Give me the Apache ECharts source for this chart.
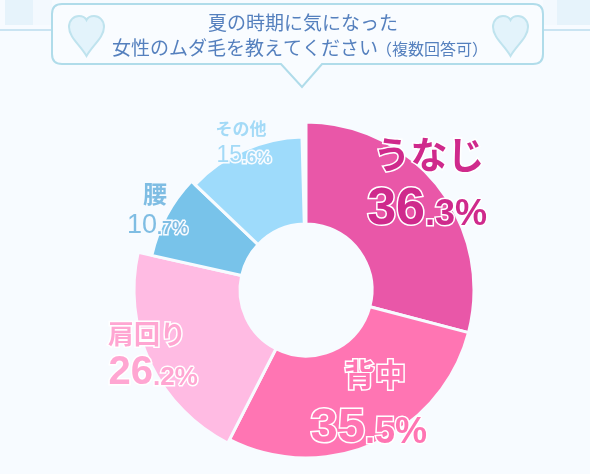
<!DOCTYPE html>
<html><head><meta charset="utf-8">
<style>html,body{margin:0;padding:0;background:#F7FBFF}#c{width:590px;height:474px}</style>
<script src="https://cdn.jsdelivr.net/npm/echarts@6/dist/echarts.min.js"></script>
</head><body><div id="c"></div>
<script>
const categories = ['うなじ','背中','肩回り','腰','その他'];
const values = [36.3,35.5,26.2,10.7,15.6];
const colors = ['#E957A8','#FF75B3','#FFBBE3','#78C3EA','#9EDBFB'];
const outerRadii = [168,168,172,158,153];
const labelColors = ['#CF2A8C','#FF75B3','#FFA6D2','#7FBDE3','#A3DAF7'];
const labelStroke = ['#FFF','#FFF','#FFF','#F7FBFF','#F7FBFF'];
const namePos = [[429,155],[375,374],[147,334],[155,194],[241,129]];
const valuePos = [[425,228],[365,446],[153,387],[157,235],[242,164]];
const nameSize = [37,31,26,24,17];
const bigSize = [52,49,40,27,23];
const smallSize = [36,36,26,18,17];
const bigWeight = [700,700,700,400,400];
const titleLines = ['夏の時期に気になった','女性のムダ毛を教えてください'];
const titleNote = '（複数回答可）';
const sweepDegrees = 358.5;

const total = values.reduce((a,b)=>a+b,0);
const fullCircle = total*360/sweepDegrees;
let cum = 0;
const series = values.map((v,i)=>{
  const s = {
    type:'pie', center:[306,290], radius:[66,outerRadii[i]], startAngle:90-cum/fullCircle*360,
    clockwise:true, silent:true, animation:false, label:{show:false}, labelLine:{show:false},
    emphasis:{disabled:true}, avoidLabelOverlap:false,
    data:[
      {name:categories[i], value:v, itemStyle:{color:colors[i], borderColor:'#F7FBFF', borderWidth:3}},
      {name:'', value:fullCircle-v, itemStyle:{color:'transparent', borderWidth:0}}
    ]
  };
  cum += v; return s;
});

echarts.graphic.registerShape('calloutBox', echarts.graphic.extendPath('M62 4 H533 Q543 4 543 14 V54 Q543 64 533 64 H322 L302 87 L281 64 H62 Q52 64 52 54 V14 Q52 4 62 4 Z', {}));
echarts.graphic.registerShape('heartShape', echarts.graphic.extendPath('M17.5 40 C11 29 0 21 0 11 C0 4 5 0 10 0 C13 0 16 1 17.5 4 C19 1 22 0 25 0 C30 0 35 4 35 11 C35 21 24 29 17.5 40 Z', {}));

const heart = (x)=>({
  type:'heartShape', x:x, y:16,
  style:{fill:'#E3F3FB', stroke:'#BFE3EE', lineWidth:2}, z:3
});

const deco = [
  {type:'rect', shape:{x:5,y:0,width:28,height:25}, style:{fill:'#E6F3FB'}, z:0},
  {type:'rect', shape:{x:557,y:0,width:33,height:25}, style:{fill:'#E6F3FB'}, z:0},
  {type:'rect', shape:{x:33,y:0,width:19,height:25}, style:{fill:'#F3F9FE'}, z:0},
  {type:'rect', shape:{x:543,y:0,width:14,height:25}, style:{fill:'#F3F9FE'}, z:0},
  {type:'line', shape:{x1:0,y1:30,x2:590,y2:30}, style:{stroke:'#BBDDEE',lineWidth:1.5}, z:0},
  {type:'calloutBox', style:{fill:'#F9FCFF', stroke:'#B0DCEA', lineWidth:2}, z:2},
  heart(69), heart(493),
  {type:'text', x:303, y:23, style:{text:titleLines[0], font:'400 19px "Noto Sans CJK JP"', fill:'#5580BE', align:'center', verticalAlign:'middle'}, z:4},
  {type:'text', x:112, y:48, style:{text:titleLines[1], font:'400 19px "Noto Sans CJK JP"', fill:'#5580BE', align:'left', verticalAlign:'middle'}, z:4},
  {type:'text', x:376, y:49, style:{text:titleNote, font:'400 16px "Noto Sans CJK JP"', fill:'#5580BE', align:'left', verticalAlign:'middle'}, z:4}
];

const labels = [];
function addText(i, x, y, text, font, align){
  labels.push({type:'text', x, y, z:10, style:{text, font, align, verticalAlign:'middle', fill:labelStroke[i], stroke:labelStroke[i], lineWidth:3}});
  labels.push({type:'text', x, y, z:11, style:{text, font, align, verticalAlign:'middle', fill:labelColors[i]}});
}
values.forEach((v,i)=>{
  const [intPart,decPart] = v.toFixed(1).split('.');
  const [nx,ny] = namePos[i];
  const [sx,base] = valuePos[i];
  addText(i, nx, ny, categories[i], `700 ${nameSize[i]}px "Noto Sans CJK JP"`, 'center');
  addText(i, sx, base-0.35*bigSize[i], intPart, `${bigWeight[i]} ${bigSize[i]}px "Liberation Sans"`, 'right');
  addText(i, sx, base-0.35*smallSize[i], `.${decPart}%`, `700 ${smallSize[i]}px "Liberation Sans"`, 'left');
});

const chart = echarts.init(document.getElementById('c'),null,{renderer:'canvas'});
chart.setOption({backgroundColor:'#F7FBFF', animation:false, series, graphic:{elements:deco.concat(labels)}});
</script></body></html>
